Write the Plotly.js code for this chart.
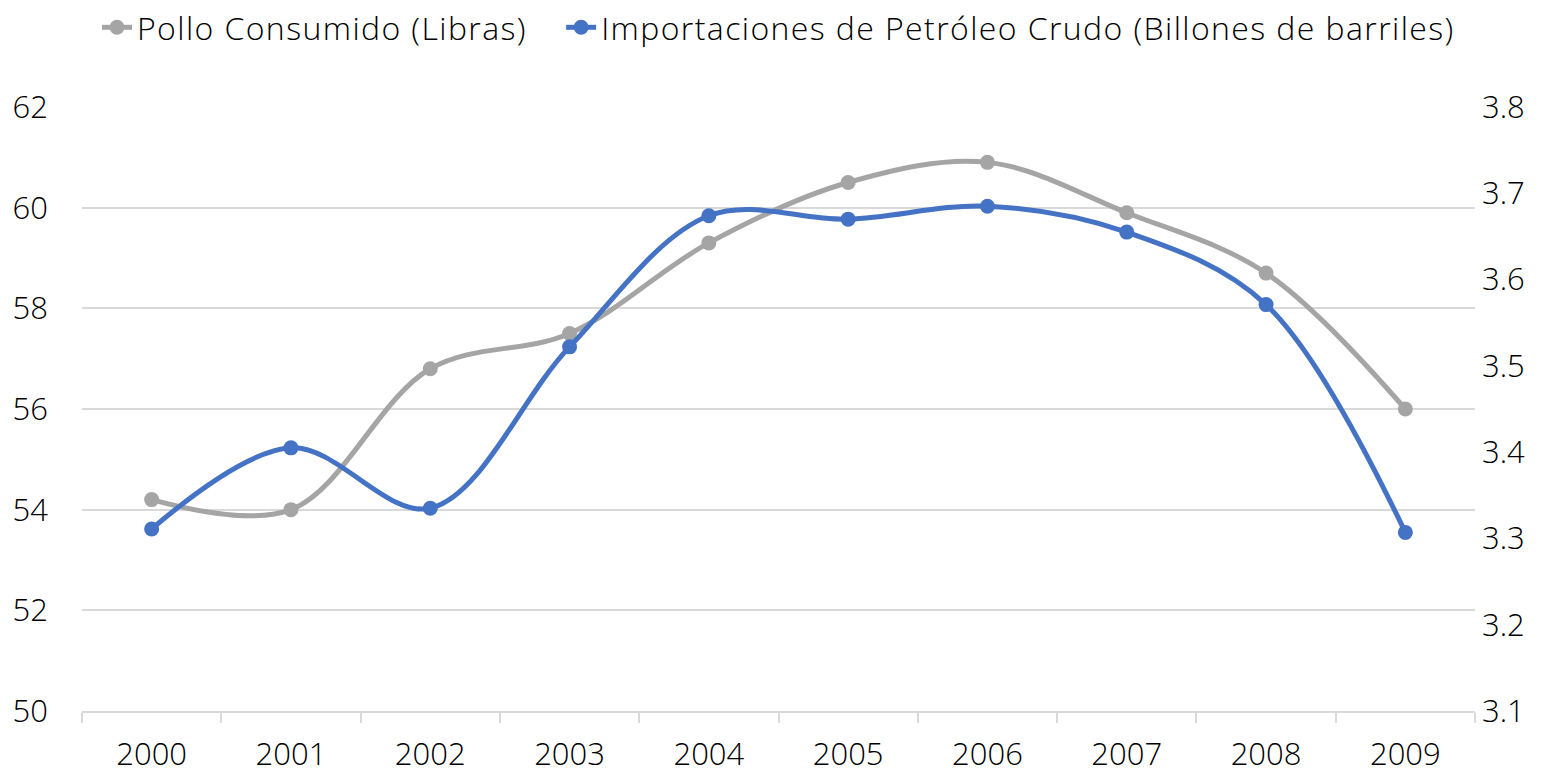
<!DOCTYPE html>
<html><head><meta charset="utf-8">
<script src="https://cdn.plot.ly/plotly-3.0.1.min.js"></script>
<style>html,body{margin:0;padding:0;background:#fff}#chart{width:1567px;height:774px}
.legendtext{letter-spacing:1.4px}</style>
</head><body><div id="chart"></div>
<script>
const years = ['2000','2001','2002','2003','2004','2005','2006','2007','2008','2009'];
const polloConsumido = [54.2, 54.0, 56.8, 57.5, 59.3, 60.5, 60.9, 59.9, 58.7, 56.0];
const importacionesPetroleo = [3.311, 3.405, 3.335, 3.522, 3.674, 3.670, 3.685, 3.655, 3.571, 3.307];
const leftTicks = [50, 52, 54, 56, 58, 60, 62];
const rightTicks = [3.1, 3.2, 3.3, 3.4, 3.5, 3.6, 3.7, 3.8];

const FONT = '"Open Sans", Lato, sans-serif';
const tf = {family: FONT, size: 31, color: '#000', weight: 300};
const traces = [
  {x: years, y: polloConsumido, name: 'Pollo Consumido (Libras)\u00A0\u00A0\u00A0', type: 'scatter', mode: 'lines+markers',
   line: {color: '#A5A5A5', width: 5, shape: 'spline', smoothing: 1}, marker: {color: '#A5A5A5', size: 15}, yaxis: 'y'},
  {x: years, y: importacionesPetroleo, name: 'Importaciones de Petróleo Crudo (Billones de barriles)', type: 'scatter', mode: 'lines+markers',
   line: {color: '#4472C4', width: 5, shape: 'spline', smoothing: 1}, marker: {color: '#4472C4', size: 15}, yaxis: 'y2'}
];
const layout = {
  width: 1567, height: 774,
  margin: {l: 82, r: 92, t: 107, b: 63},
  paper_bgcolor: '#fff', plot_bgcolor: '#fff',
  font: tf,
  showlegend: true,
  legend: {orientation: 'h', x: 0.5, xanchor: 'center', y: 1, yref: 'container', yanchor: 'top',
           font: {family: FONT, size: 32, color: '#000', weight: 300}, tracegroupgap: 0},
  xaxis: {type: 'category', range: [-0.5, 9.5], showgrid: false, showline: true, linecolor: '#D9D9D9', linewidth: 2,
          ticks: 'outside', tickson: 'boundaries', ticklen: 10, tickcolor: '#D9D9D9', tickwidth: 2, ticklabelstandoff: 15,
          tickfont: tf, zeroline: false, fixedrange: true},
  yaxis: {range: [50, 62], tickvals: leftTicks, showgrid: true, gridcolor: '#D9D9D9', gridwidth: 2,
          showline: false, zeroline: false, ticks: '', ticklabelstandoff: 33, tickfont: tf},
  yaxis2: {range: [3.1, 3.8], tickvals: rightTicks, ticktext: rightTicks.map(v => v.toFixed(1)), overlaying: 'y', side: 'right',
           showgrid: false, showline: false, zeroline: false, ticks: '', ticklabelstandoff: 6, tickfont: tf}
};
Plotly.newPlot('chart', traces, layout, {displayModeBar: false, staticPlot: true});
</script></body></html>
